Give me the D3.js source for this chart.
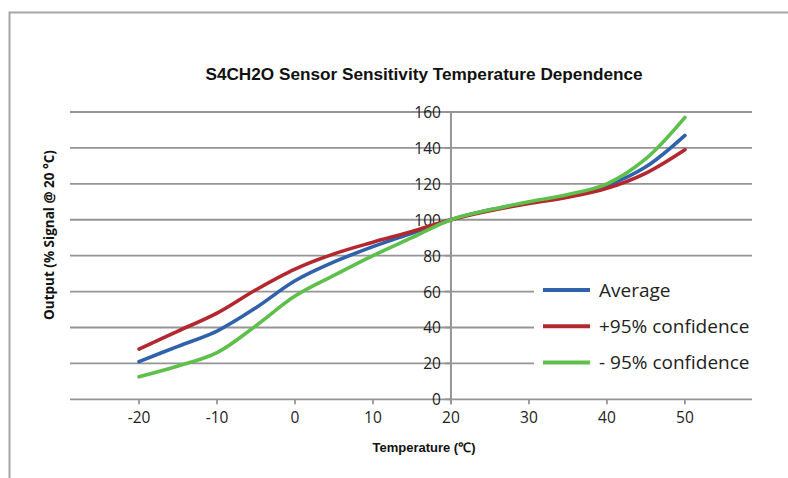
<!DOCTYPE html>
<html>
<head>
<meta charset="utf-8">
<script src="https://cdn.jsdelivr.net/npm/d3@7"></script>
<style>
  html, body { margin: 0; padding: 0; background: #fff; }
  svg { display: block; }
</style>
</head>
<body>
<svg id="chart" width="788" height="478"></svg>
<script>
// ---- Data ----
const temperatures = [-20, -15, -10, -5, 0, 5, 10, 15, 20, 25, 30, 35, 40, 45, 50];
const average      = [21, 29.5, 38, 51, 66, 76.5, 85, 92.5, 100, 105.5, 109.5, 113, 119, 129.5, 147];
const plus95       = [28, 38, 48, 61, 72.5, 81, 87.5, 93.5, 100, 105, 109, 112.5, 117.5, 126, 139];
const minus95      = [12.5, 18.5, 26, 41, 57.5, 69, 80, 90, 100, 105.5, 110, 114, 120, 134, 157];
const seriesNames  = ["Average", "+95% confidence", "- 95% confidence"];
const xTicks = [-20, -10, 0, 10, 20, 30, 40, 50];
const yTicks = [0, 20, 40, 60, 80, 100, 120, 140, 160];
const titleText = "S4CH2O Sensor Sensitivity Temperature Dependence";
const xTitle = "Temperature (\u2103)";
const yTitle = "Output (% Signal @ 20 \u00B0C)";

const colors = ["#2f62ab", "#b3282f", "#5ebf4b"];
const seriesValues = [average, plus95, minus95];

const svg = d3.select("#chart");

// outer frame
svg.append("path")
  .attr("d", "M9.5,478 L9.5,12.5 L788,12.5")
  .attr("fill", "none").attr("stroke", "#a6a6a6").attr("stroke-width", 2);

// scales
const x = d3.scaleLinear().domain([-28.85, 58.6]).range([70, 752]);
const y = d3.scaleLinear().domain([0, 160]).range([399.3, 112]);
const axisX = 20; // y-axis crosses at 20 °C

const gridColor = "#959595";

// horizontal gridlines
svg.append("g").selectAll("line").data(yTicks).join("line")
  .attr("x1", x.range()[0]).attr("x2", x.range()[1])
  .attr("y1", d => y(d)).attr("y2", d => y(d))
  .attr("stroke", gridColor).attr("stroke-width", 1.8);

// vertical axis line at 20
svg.append("line")
  .attr("x1", x(axisX)).attr("x2", x(axisX))
  .attr("y1", y(160)).attr("y2", y(0) + 5)
  .attr("stroke", gridColor).attr("stroke-width", 2);

// x ticks
svg.append("g").selectAll("line").data(xTicks).join("line")
  .attr("x1", d => x(d)).attr("x2", d => x(d))
  .attr("y1", y(0)).attr("y2", y(0) + 5)
  .attr("stroke", gridColor).attr("stroke-width", 1.8);

// y ticks
svg.append("g").selectAll("line").data(yTicks).join("line")
  .attr("x1", x(axisX) - 6).attr("x2", x(axisX))
  .attr("y1", d => y(d)).attr("y2", d => y(d))
  .attr("stroke", gridColor).attr("stroke-width", 1.8);

const tickFont = "'Open Sans', 'Noto Sans', sans-serif";

// y tick labels
svg.append("g").selectAll("text").data(yTicks).join("text")
  .attr("x", x(axisX) - 10).attr("y", d => y(d) + 6)
  .attr("text-anchor", "end")
  .attr("font-family", tickFont).attr("font-size", 15.5).attr("fill", "#222")
  .text(d => d);

// x tick labels
svg.append("g").selectAll("text").data(xTicks).join("text")
  .attr("x", d => x(d)).attr("y", y(0) + 23.5)
  .attr("text-anchor", "middle")
  .attr("font-family", tickFont).attr("font-size", 15.5).attr("fill", "#222")
  .text(d => d);

// lines
const line = d3.line()
  .x(d => x(d[0])).y(d => y(d[1]))
  .curve(d3.curveCatmullRom.alpha(0.5));

seriesValues.forEach((vals, i) => {
  svg.append("path")
    .datum(temperatures.map((t, j) => [t, vals[j]]))
    .attr("d", line)
    .attr("fill", "none")
    .attr("stroke", colors[i])
    .attr("stroke-width", 3.6)
    .attr("stroke-linecap", "round")
    .attr("stroke-linejoin", "round");
});

// legend
const legend = svg.append("g");
legend.append("rect")
  .attr("x", 534).attr("y", 272).attr("width", 222).attr("height", 106)
  .attr("fill", "#fff");
const legRows = legend.selectAll("g").data(seriesNames).join("g")
  .attr("transform", (d, i) => `translate(543, ${290 + i * 36.3})`);
legRows.append("line")
  .attr("x1", 0).attr("x2", 47).attr("y1", 0).attr("y2", 0)
  .attr("stroke", (d, i) => colors[i]).attr("stroke-width", 4);
legRows.append("text")
  .attr("x", 56).attr("y", 6.5)
  .attr("font-family", tickFont).attr("font-size", 19).attr("fill", "#222")
  .text(d => d);

// title
svg.append("text")
  .attr("x", 424).attr("y", 80)
  .attr("text-anchor", "middle")
  .attr("font-family", "'Liberation Sans', Arial, sans-serif")
  .attr("font-weight", "bold").attr("font-size", 17.2).attr("fill", "#111")
  .text(titleText);

// x axis title
svg.append("text")
  .attr("x", 424).attr("y", 451.5)
  .attr("text-anchor", "middle")
  .attr("font-family", "'Liberation Sans', Arial, sans-serif")
  .attr("font-weight", "bold").attr("font-size", 13).attr("fill", "#111")
  .text(xTitle);

// y axis title
svg.append("text")
  .attr("transform", "translate(54, 235) rotate(-90)")
  .attr("text-anchor", "middle")
  .attr("font-family", tickFont)
  .attr("font-weight", "bold").attr("font-size", 13.5).attr("fill", "#111")
  .text(yTitle);
</script>
</body>
</html>
